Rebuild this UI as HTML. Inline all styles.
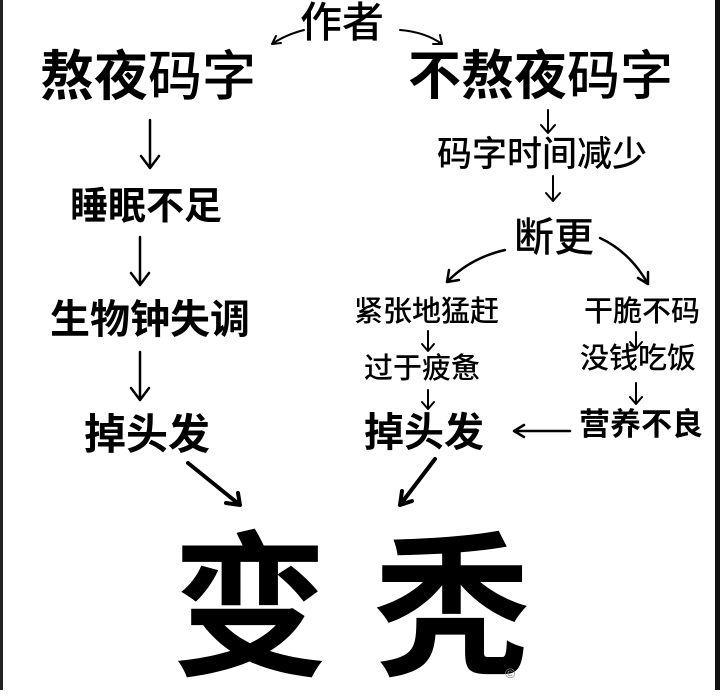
<!DOCTYPE html>
<html><head><meta charset="utf-8"><style>
body{margin:0;width:720px;height:690px;background:#fff;position:relative;overflow:hidden;font-family:"Liberation Sans","Noto Sans CJK SC",sans-serif;color:#000}
.t{position:absolute;line-height:1;white-space:nowrap;font-weight:500}
.b{font-weight:700}
.h{font-weight:700}
svg{position:absolute;left:0;top:0}
</style></head><body>
<div style="position:absolute;left:0;top:0;width:3px;height:690px;background:#222"></div>
<div style="position:absolute;right:0;top:0;width:5px;height:690px;background:#111"></div>

<div class="t" style="left:300px;top:2px;font-size:42px">作者</div>
<div class="t" style="left:40px;top:50px;font-size:54px"><span class="b">熬夜</span>码字</div>
<div class="t" style="left:408px;top:50px;font-size:53px"><span class="b">不熬夜</span>码字</div>
<div class="t" style="left:437px;top:137px;font-size:35px">码字时间减少</div>
<div class="t b" style="left:70px;top:188px;font-size:38px">睡眠不足</div>
<div class="t" style="left:514px;top:218px;font-size:40px">断更</div>
<div class="t b" style="left:50px;top:300px;font-size:40px">生物钟失调</div>
<div class="t" style="left:354px;top:298px;font-size:29px">紧张地猛赶</div>
<div class="t" style="left:584px;top:298px;font-size:29px">干脆不码</div>
<div class="t" style="left:580px;top:345px;font-size:29px">没钱吃饭</div>
<div class="t" style="left:364px;top:355px;font-size:29px">过于疲惫</div>
<div class="t b" style="left:84px;top:414px;font-size:42px">掉头发</div>
<div class="t b" style="left:364px;top:413px;font-size:40px">掉头发</div>
<div class="t b" style="left:579px;top:409px;font-size:31px">营养不良</div>
<div class="t h" style="left:172px;top:532px;font-size:156px">变</div>
<div class="t h" style="left:374px;top:532px;font-size:156px">秃</div>
<div class="t" style="left:505px;top:666px;font-size:14px;color:#888">©</div>

<svg width="720" height="690" fill="none" stroke="#000" stroke-linecap="round" stroke-linejoin="round">
<g stroke-width="2">
<path d="M304 30 Q285 35 272 44 M272 44 l9 -1 M272 44 l4 -8"/>
<path d="M400 30 Q425 32 442 44 M442 44 l-2 -9 M442 44 l-9 0"/>
<path d="M548 110 V132 M541 125 l7 8 l7 -8"/>
<path d="M553 176 V200 M546 193 l7 8 l7 -8"/>
<path d="M428 331 V350 M422 344 l6 7 l6 -7"/>
<path d="M428 390 V408 M422 402 l6 7 l6 -7"/>
<path d="M636 332 V348 M630 342 l6 7 l6 -7"/>
<path d="M636 383 V403 M630 397 l6 7 l6 -7"/>
</g>
<g stroke-width="2.5">
<path d="M150 120 V168 M141 156 l9 12 l9 -12"/>
<path d="M140 237 V285 M131 273 l9 12 l9 -12"/>
<path d="M140 352 V400 M131 388 l9 12 l9 -12"/>
<path d="M505 250 Q470 258 447 282 M447 282 l2 -12 M447 282 l12 -2"/>
<path d="M600 238 Q630 252 648 284 M648 284 l0 -12 M648 284 l-10 -6"/>
<path d="M570 431 H514 M514 431 l10 -6 M514 431 l10 6"/>
</g>
<g stroke-width="4">
<path d="M188 463 L240 505 M240 505 l-14 -2 M240 505 l-2 -12"/>
<path d="M435 459 L400 505 M400 505 l2 -14 M400 505 l12 -4"/>
</g>
</svg>
</body></html>
